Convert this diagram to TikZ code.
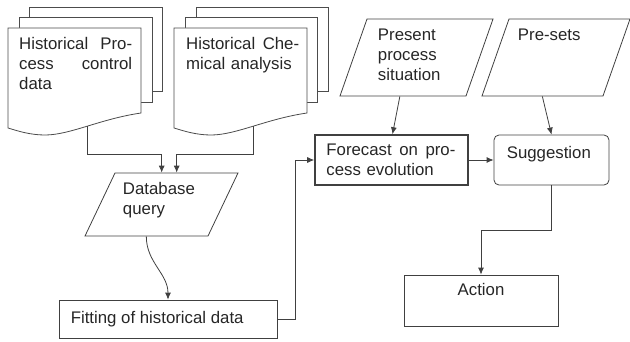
\documentclass[tikz,border=0pt]{standalone}
\usepackage{fontspec}
\setmainfont{Liberation Sans}
\usepackage{tikz}
\usetikzlibrary{arrows.meta,calc,positioning}

\begin{document}
\begin{tikzpicture}[x=1pt,y=1pt,>={Latex[length=7pt,width=6pt]},
  every node/.style={font=\fontsize{16.8}{20}\selectfont,text=black!85},
  paper/.style={draw=black!70,fill=white,line width=0.8pt},
  proc/.style={draw=black!75,line width=0.8pt,inner sep=0pt},
  inout/.style={draw=black!75,line width=0.8pt,inner sep=0pt,xslant=#1,transform shape},
  txt/.style={inner sep=0pt,align=left},
  link/.style={->,draw=black!75,line width=0.8pt}]
\useasboundingbox (0,0) rectangle (630,341);

\draw[paper] (29,250) rectangle (162,334);
\draw[paper] (19,239) rectangle (152,324);
\draw[paper] (8,313) -- (141,313) -- (141,228) .. controls (100,222) and (70,206) .. (45,206) coordinate[pos=0.5] (hpcout) .. controls (30,206) and (18,210) .. (8,213) -- cycle;
\node[txt,text width=113pt,anchor=north west] (hpc) at (19,304) {Historical\hfill Pro-\\cess\hfill control\\data};

\draw[paper] (196,250) rectangle (328,334);
\draw[paper] (185,239) rectangle (317,324);
\draw[paper] (174,313) -- (307,313) -- (307,228) .. controls (266,222) and (236,206) .. (211,206) coordinate[pos=0.5] (hcaout) .. controls (196,206) and (184,210) .. (174,213) -- cycle;
\node[txt,text width=113pt,anchor=north west] (hca) at (186,304) {Historical\hfill Che-\\mical analysis};

\node[inout=0.476,minimum width=123pt,minimum height=63pt] (dbq) at (161.5,136.5) {};
\node[txt,below right=10pt and 8pt of dbq.north west] (dbqtext) {Database\\query};

\node[proc,minimum width=218pt,minimum height=38pt] (fit) at (168,22) {};
\node[txt,below right=12pt and 12pt of fit.north west] (fittext) {Fitting of historical data};

\node[inout=0.351,minimum width=126pt,minimum height=77pt] (pres) at (416.5,283.5) {};
\node[txt,below right=10pt and 11pt of pres.north west] (prestext) {Present\\process\\situation};

\node[inout=0.351,minimum width=121pt,minimum height=77pt] (pre) at (556,283.5) {};
\node[txt,below right=10pt and 9pt of pre.north west] (pretext) {Pre-sets};

\node[proc,line width=1.6pt,minimum width=153pt,minimum height=50pt] (fore) at (391.5,181) {};
\node[txt,text width=129pt,below right=10pt and 12pt of fore.north west] (foretext) {Forecast\hfill on\hfill pro-\\cess evolution};

\node[proc,rounded corners=5pt,minimum width=115pt,minimum height=50pt] (sugg) at (551.5,181) {};
\node[txt,below right=12pt and 13pt of sugg.north west] (suggtext) {Suggestion};

\node[proc,minimum width=154pt,minimum height=51pt] (act) at (481,40.5) {};
\node[txt,below=9pt of act.north] (acttext) {Action};

\draw[link] (hpcout) -- ++(0,-28) -| ([xshift=-15pt]dbq.north);
\draw[link] (hcaout) -- ++(0,-28) -| (dbq.north);
\draw[link] (dbq.south) to[out=-90,in=90] (fit.north);
\draw[link] (fit.east) -- ++(18,0) |- (fore.west);
\draw[link] ([xshift=-3pt]pres.south) -- ([xshift=1pt]fore.north);
\draw[link] (pre.south) -- (sugg.north);
\draw[link] (fore.east) -- (sugg.west);
\draw[link] (sugg.south) -- ++(0,-45) -| (act.north);
\end{tikzpicture}
\end{document}
